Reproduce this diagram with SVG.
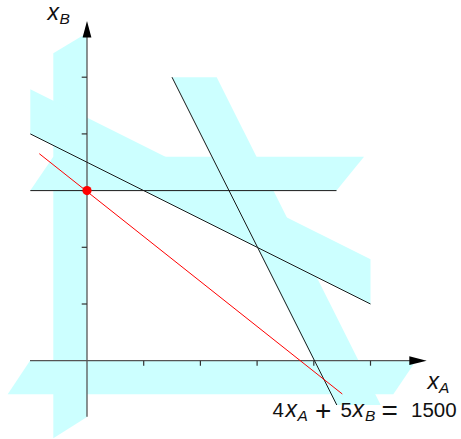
<svg xmlns="http://www.w3.org/2000/svg" width="461" height="439" viewBox="0 0 461 439">
<style>
.band{fill:#ccffff;stroke:none}
.axis{stroke:#555;stroke-width:1.3;fill:none}
.tick{stroke:#333;stroke-width:1.2}
.line{stroke:#1a1a1a;stroke-width:1;fill:none}
.red{stroke:#ff0000;stroke-width:1;fill:none}
.t{font-family:"Liberation Sans",Arial,sans-serif;fill:#111}
.v{font-style:italic;font-size:23px}
.s{font-style:italic;font-size:15.5px}
.n{font-size:20.5px}
.op{font-size:28px}
</style>
<rect width="461" height="439" fill="#fff"/>
<g id="shading">
<polygon class="band" points="53.3,53.3 87,33 87,417 53.3,438.3"/>
<polygon class="band" points="30,360.7 416,360.7 393.3,394.3 7.7,394.3"/>
<polygon class="band" points="30.3,190.6 53.3,156.7 364,156.7 336.5,190.6"/>
<polygon class="band" points="30.3,133.9 30.3,89.2 370.5,259.3 370.5,304"/>
<polygon class="band" points="172,77.2 216.7,77.2 380.7,405 336,405"/>
</g>
<g id="axes">
<line class="axis" x1="30" y1="360.7" x2="412" y2="360.7"/>
<polygon points="426.7,360.7 409.3,356.3 409.3,365.1" fill="#000"/>
<line class="axis" x1="87" y1="416.7" x2="87" y2="35"/>
<polygon points="87,21 82.6,37.5 91.4,37.5" fill="#000"/>
<g id="ticks">
<line class="tick" x1="143.7" y1="360.7" x2="143.7" y2="365.7"/>
<line class="tick" x1="200.4" y1="360.7" x2="200.4" y2="365.7"/>
<line class="tick" x1="257.1" y1="360.7" x2="257.1" y2="365.7"/>
<line class="tick" x1="313.8" y1="360.7" x2="313.8" y2="365.7"/>
<line class="tick" x1="370.5" y1="360.7" x2="370.5" y2="365.7"/>
<line class="tick" x1="81.7" y1="304" x2="87" y2="304"/>
<line class="tick" x1="81.7" y1="247.3" x2="87" y2="247.3"/>
<line class="tick" x1="81.7" y1="190.6" x2="87" y2="190.6"/>
<line class="tick" x1="81.7" y1="133.9" x2="87" y2="133.9"/>
<line class="tick" x1="81.7" y1="77.2" x2="87" y2="77.2"/>
</g>
</g>
<g id="connectors">
<line class="line" x1="30.3" y1="190.6" x2="336.5" y2="190.6"/>
<line class="line" x1="30.3" y1="133.9" x2="370.5" y2="304"/>
<line class="line" x1="172" y1="77.2" x2="336.8" y2="405"/>
<line class="red" x1="39.3" y1="153.7" x2="342.3" y2="394"/>
</g>
<g id="optimum">
<circle cx="87" cy="190.6" r="4.6" fill="#ff0000"/>
</g>
<g id="label-xB">
<text class="t v" x="47.5" y="20">x</text>
<text class="t s" x="59.5" y="23.5">B</text>
</g>
<g id="label-xA">
<text class="t v" x="427.5" y="388.5">x</text>
<text class="t s" x="439" y="392.5">A</text>
</g>
<g id="label-objective">
<text class="t n" x="272.5" y="417">4</text>
<text class="t v" x="285.5" y="417">x</text>
<text class="t s" x="297.5" y="421">A</text>
<text class="t op" x="315" y="420">+</text>
<text class="t n" x="340.5" y="417">5</text>
<text class="t v" x="352.5" y="417">x</text>
<text class="t s" x="365" y="421">B</text>
<text class="t op" x="381.5" y="420">=</text>
<text class="t n" x="411" y="417">1500</text>
</g>
</svg>
